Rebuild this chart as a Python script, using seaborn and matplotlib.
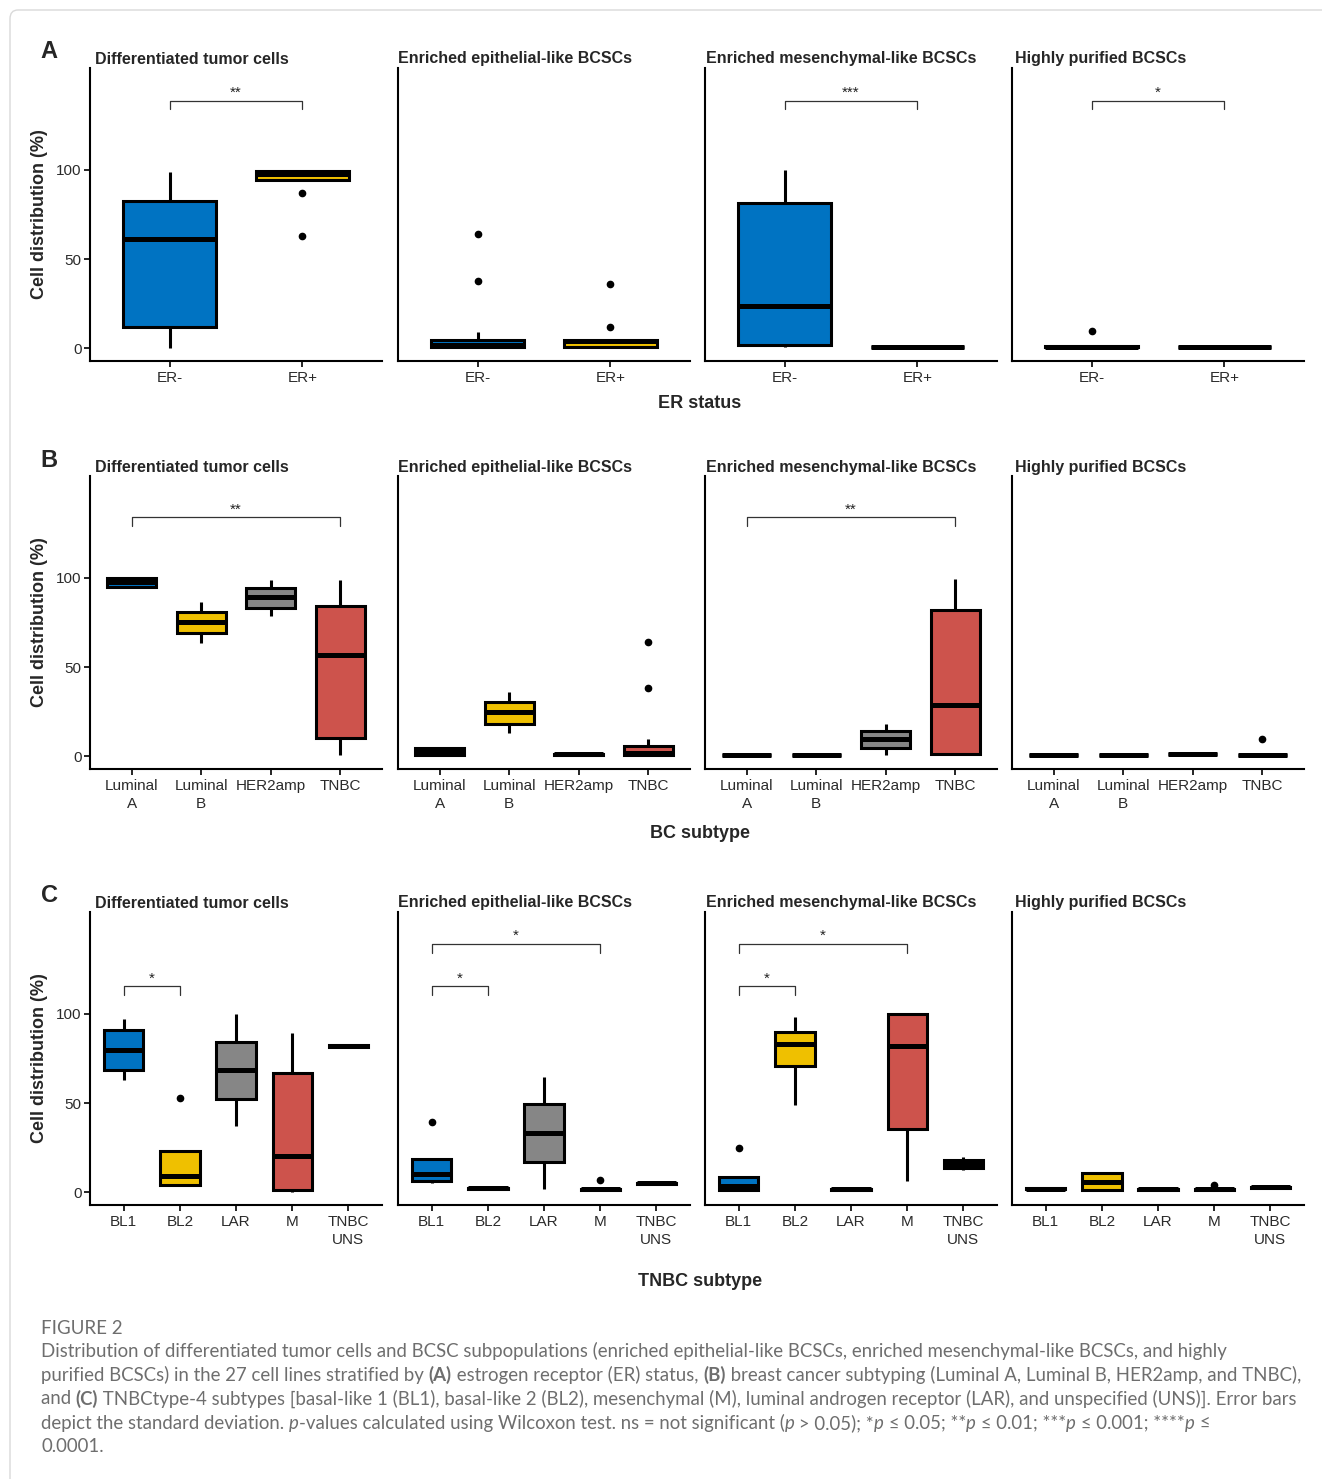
import matplotlib
matplotlib.use("Agg")
import matplotlib.pyplot as plt
import pandas as pd
import seaborn as sns
from matplotlib.patches import FancyBboxPatch

W, H = 1322, 1479

PANEL_TITLES = [
    "Differentiated tumor cells",
    "Enriched epithelial-like BCSCs",
    "Enriched mesenchymal-like BCSCs",
    "Highly purified BCSCs",
]

ER_LABELS = ["ER-", "ER+"]
BC_LABELS = ["Luminal\nA", "Luminal\nB", "HER2amp", "TNBC"]
TNBC_LABELS = ["BL1", "BL2", "LAR", "M", "TNBC\nUNS"]

# cell distribution (%) per group
ER_DIFF = [[0, 11.6, 61, 82.6, 99],
           [62.9, 86.9, 94.5, 96.5, 97.8, 98.8, 99.4, 100, 100]]
ER_EPI = [[0, 0, 0.2, 0.3, 0.6, 1.0, 1.5, 2.5, 3.5, 4.5, 9, 37.6, 63.9],
          [0, 0.1, 0.3, 2.5, 4.0, 4.3, 4.5, 12, 35.8]]
ER_MES = [[0.7, 1.7, 23.8, 81.6, 100],
          [0.3, 0.4, 0.5, 0.6, 0.7]]
ER_HP = [[0.1, 0.2, 0.4, 0.6, 0.8, 1.0, 1.4, 1.6, 9.5],
         [0.2, 0.3, 0.4, 0.5, 0.6]]

BC_DIFF = [[95, 95.1, 97.6, 99.8, 100],
           [63.3, 68.9, 75.2, 81, 86.6],
           [78.8, 83.4, 89.4, 94.4, 98.9],
           [0.5, 9.9, 56.8, 84.4, 99]]
BC_EPI = [[0.3, 0.5, 2.5, 4.3, 4.5],
          [12.7, 18, 24.6, 30.5, 35.9],
          [0.6, 0.8, 1.0, 1.2, 1.4],
          [0, 0.1, 0.2, 0.3, 0.8, 1.2, 1.5, 2.5, 4.0, 5.8, 9.5, 38, 64]]
BC_MES = [[0.2, 0.3, 0.4, 0.5, 0.6],
          [0.2, 0.3, 0.4, 0.5, 0.6],
          [0.5, 4.6, 9.5, 14, 18],
          [0.5, 1.3, 28.7, 82, 99.3]]
BC_HP = [[0.2, 0.3, 0.4, 0.5, 0.6],
         [0.2, 0.3, 0.4, 0.5, 0.6],
         [0.8, 0.9, 1.1, 1.3, 1.4],
         [0.1, 0.2, 0.3, 0.4, 0.5, 0.6, 0.7, 0.9, 9.5]]

TN_DIFF = [[62.7, 68.3, 79.5, 91, 97.2],
           [3.5, 3.8, 3.9, 6, 8.8, 15, 23.0, 23.0, 53],
           [37, 52.5, 68.7, 84.5, 100],
           [0, 1.3, 20.5, 67, 89.2],
           [81, 81.5, 82, 82.5, 83]]
TN_EPI = [[5, 6, 6.3, 8, 10.2, 14, 18.4, 18.4, 39.3],
          [1.5, 1.7, 2.0, 2.3, 2.6],
          [1.7, 17.1, 33.3, 49.3, 64.8],
          [0.8, 1.0, 1.2, 1.4, 1.5, 1.6, 1.8, 2.0, 6.5],
          [4.2, 4.5, 4.8, 5.1, 5.4]]
TN_MES = [[0.8, 1.0, 1.1, 2, 3.2, 6, 8.6, 8.6, 24.8],
          [48.8, 71, 82.9, 89.8, 98.1],
          [1.1, 1.3, 1.5, 1.7, 1.9],
          [6.3, 35.2, 82, 100, 100],
          [12.1, 13.4, 15.8, 17.9, 19.4]]
TN_HP = [[1.5, 1.7, 1.9, 2.1, 2.3],
         [0.8, 1.1, 5.8, 10.6, 11],
         [1.1, 1.3, 1.5, 1.7, 1.9],
         [0.9, 1.2, 1.5, 1.8, 4.0],
         [2.2, 2.4, 2.6, 2.8, 3.0]]

# Wilcoxon brackets: (group a, group b, label, bracket height)
ER_SIG = [[(0, 1, "**", 139)], [], [(0, 1, "***", 139)], [(0, 1, "*", 139)]]
BC_SIG = [[(0, 3, "**", 134)], [], [(0, 3, "**", 134)], []]
TN_SIG = [[(0, 1, "*", 115.5)],
          [(0, 1, "*", 115.5), (0, 3, "*", 139.5)],
          [(0, 1, "*", 115.5), (0, 3, "*", 139.5)],
          []]

JCO = ["#0073C2", "#EFC000", "#868686", "#CD534C", "#003C67"]

ROWS = [
    ("A", ER_LABELS, [ER_DIFF, ER_EPI, ER_MES, ER_HP], ER_SIG, "ER status", 68, 403),
    ("B", BC_LABELS, [BC_DIFF, BC_EPI, BC_MES, BC_HP], BC_SIG, "BC subtype", 476, 833),
    ("C", TNBC_LABELS, [TN_DIFF, TN_EPI, TN_MES, TN_HP], TN_SIG, "TNBC subtype", 912, 1281),
]
COL_X = [90, 398, 705, 1012]
TITLE_X = [95, 398, 706, 1015]
AX_W, AX_H = 292, 293

sns.set_theme(style="ticks")
plt.rcParams["font.family"] = ["Liberation Sans", "DejaVu Sans"]


def draw_panel(ax, labels, groups, sig, show_y):
    df = pd.DataFrame({
        "group": [labels[i] for i, g in enumerate(groups) for _ in g],
        "value": [v for g in groups for v in g],
    })
    sns.boxplot(data=df, x="group", y="value", hue="group", order=labels,
                hue_order=labels, palette=JCO[:len(labels)], legend=False,
                saturation=1, width=0.7, linewidth=2.2, linecolor="black",
                showcaps=False, fliersize=4.5,
                flierprops=dict(marker="o", markerfacecolor="black",
                                markeredgecolor="black"),
                medianprops=dict(linewidth=3.6, color="black",
                                 solid_capstyle="butt"),
                ax=ax)
    ax.set_xlim(-0.6, len(labels) - 0.4)
    ax.set_ylim(-7.3, 157.3)
    sns.despine(ax=ax)
    for s in ["left", "bottom"]:
        ax.spines[s].set_linewidth(1.5)
        ax.spines[s].set_color("black")
    ax.tick_params(axis="x", length=4, width=1.2, color="black",
                   labelsize=11, labelcolor="#2b2b2b", pad=3)
    for t in ax.get_xticklabels():
        t.set_linespacing(1.35)
    ax.set_xlabel("")
    if show_y:
        ax.set_yticks([0, 50, 100])
        ax.tick_params(axis="y", length=4, width=1.2, color="black",
                       labelsize=11, labelcolor="#2b2b2b", pad=2)
        ax.set_ylabel("Cell distribution (%)", fontsize=13, fontweight="bold",
                      labelpad=6)
    else:
        ax.set_yticks([])
        ax.set_ylabel("")
    for a, b, lab, y in sig:
        ax.plot([a, a, b, b], [y - 5, y, y, y - 5], color="#333333", lw=0.9,
                clip_on=False)
        ax.text((a + b) / 2, y + 0.5, lab, ha="center", va="bottom",
                fontsize=11, color="#222222")


fig = plt.figure(figsize=(W / 100, H / 100), dpi=100)
fig.patches.append(FancyBboxPatch((10 / W, -0.02), 1.1, 1 - 10 / H + 0.02,
                                  boxstyle="round,pad=0,rounding_size=0.006",
                                  transform=fig.transFigure, fill=False,
                                  edgecolor="#d9d9d9", lw=1.0))

for letter, labels, panels, sigs, xlab, top, xlab_y in ROWS:
    for j, (groups, sig) in enumerate(zip(panels, sigs)):
        ax = fig.add_axes([COL_X[j] / W, 1 - (top + AX_H) / H, AX_W / W, AX_H / H])
        draw_panel(ax, labels, groups, sig, j == 0)
        fig.text(TITLE_X[j] / W, 1 - (top - 9) / H, PANEL_TITLES[j],
                 ha="left", va="center", fontsize=11.5, fontweight="bold")
    fig.text(49 / W, 1 - (top - 16) / H, letter, fontsize=17, fontweight="bold",
             ha="center", va="center")
    fig.text(700 / W, 1 - xlab_y / H, xlab, fontsize=13, fontweight="bold",
             ha="center", va="center")

# caption
CAP = ["Lato", "DejaVu Sans"]
CAP_COLOR = "#6e6e6e"
fig.text(41 / W, 1 - 1328 / H, "FIGURE 2", fontsize=13.5, color=CAP_COLOR,
         family=CAP, ha="left", va="center")

caption_lines = [
    [("Distribution of differentiated tumor cells and BCSC subpopulations (enriched epithelial-like BCSCs, enriched mesenchymal-like BCSCs, and highly", "normal", "normal")],
    [("purified BCSCs) in the 27 cell lines stratified by ", "normal", "normal"), ("(A)", "bold", "normal"),
     (" estrogen receptor (ER) status, ", "normal", "normal"), ("(B)", "bold", "normal"),
     (" breast cancer subtyping (Luminal A, Luminal B, HER2amp, and TNBC),", "normal", "normal")],
    [("and ", "normal", "normal"), ("(C)", "bold", "normal"),
     (" TNBCtype-4 subtypes [basal-like 1 (BL1), basal-like 2 (BL2), mesenchymal (M), luminal androgen receptor (LAR), and unspecified (UNS)]. Error bars", "normal", "normal")],
    [("depict the standard deviation. ", "normal", "normal"), ("p", "normal", "italic"),
     ("-values calculated using Wilcoxon test. ns = not significant (", "normal", "normal"), ("p", "normal", "italic"),
     (" > 0.05); *", "normal", "normal"), ("p", "normal", "italic"), (" \u2264 0.05; **", "normal", "normal"),
     ("p", "normal", "italic"), (" \u2264 0.01; ***", "normal", "normal"), ("p", "normal", "italic"),
     (" \u2264 0.001; ****", "normal", "normal"), ("p", "normal", "italic"), (" \u2264", "normal", "normal")],
    [("0.0001.", "normal", "normal")],
]

renderer = fig.canvas.get_renderer()
for i, pieces in enumerate(caption_lines):
    x = 41
    y = 1351 + 24 * i
    for text, weight, style in pieces:
        t = fig.text(x / W, 1 - y / H, text, fontsize=13.4, fontweight=weight,
                     fontstyle=style, color=CAP_COLOR, family=CAP,
                     ha="left", va="center")
        x += t.get_window_extent(renderer=renderer).width

fig.savefig("out.png", dpi=100)
